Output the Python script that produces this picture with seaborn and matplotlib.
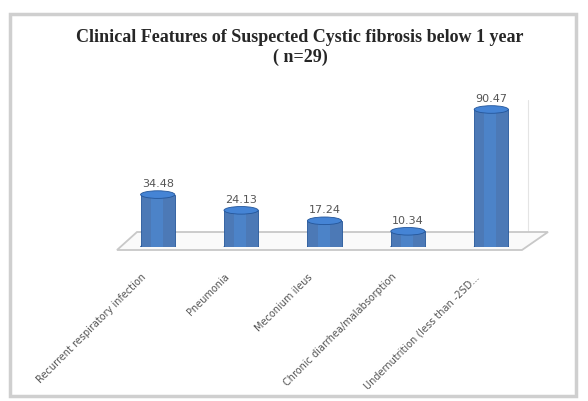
import matplotlib
matplotlib.use("Agg")
import matplotlib.pyplot as plt
import matplotlib.transforms as mtransforms
import seaborn as sns
from matplotlib.patches import Ellipse, Polygon, Rectangle

features = ["Recurrent respiratory infection", "Pneumonia", "Meconium ileus",
            "Chronic diarrhea/malabsorption", "Undernutrition (less than -2SD..."]
percent = [34.48, 24.13, 17.24, 10.34, 90.47]

sns.set_style("white")
plt.rcParams['font.family'] = ['DejaVu Sans']

fig = plt.figure(figsize=(5.88, 4.01), dpi=100)
W, H = 588, 401

# outer chart frame
fig.patches.append(Rectangle((10 / W, 1 - 396 / H), 566 / W, 382 / H, transform=fig.transFigure,
                             fill=False, edgecolor="#cfcfcf", linewidth=2.5, zorder=-2))

# 3d-ish floor and back-wall edge
floor = [(117, 250), (137, 232), (548, 232), (522, 250)]
fig.patches.append(Polygon([(x / W, 1 - y / H) for x, y in floor], closed=True,
                           transform=fig.transFigure, facecolor="#fafafa",
                           edgecolor="#c8c8c8", linewidth=1.3, zorder=-1))
fig.lines.append(plt.Line2D([528 / W, 528 / W], [1 - 232 / H, 1 - 100 / H],
                            transform=fig.transFigure, color="#e4e4e4", linewidth=0.8, zorder=-1))

ax = fig.add_axes([116 / W, 1 - 247 / H, 417 / W, 152 / H])
ax.patch.set_alpha(0)
sns.barplot(x=features, y=percent, color="#3a77c8", width=0.41, ax=ax, zorder=3,
            edgecolor="#24569a", linewidth=0.6)
ax.set_ylim(0, 100)
ax.set_xlim(-0.5, 4.5)

# cylinder caps and shading
for p in ax.patches[:len(percent)]:
    x0, w, h = p.get_x(), p.get_width(), p.get_height()
    cx = x0 + w / 2
    ax.add_patch(Ellipse((cx, 0), w, 5, facecolor="#2f66b0", edgecolor="#24569a",
                         linewidth=0.6, zorder=2))
    ax.add_patch(Rectangle((x0 + w * 0.3, 0), w * 0.35, h, facecolor="#4d8ddb",
                           edgecolor="none", alpha=0.5, zorder=4))
    ax.add_patch(Ellipse((cx, h), w, 5, facecolor="#4584d5", edgecolor="#24569a",
                         linewidth=0.6, zorder=5))
    ax.text(cx, h + 3.5, f"{h:.2f}", ha="center", va="bottom", fontsize=8, color="#555555")

for s in ax.spines.values():
    s.set_visible(False)
ax.set_yticks([])
ax.tick_params(axis="x", length=0, pad=18, labelsize=7, labelcolor="#555555")
shift = mtransforms.ScaledTranslation(-17 / 100, 0, fig.dpi_scale_trans)
for lab in ax.get_xticklabels():
    lab.set_rotation(45)
    lab.set_ha("right")
    lab.set_rotation_mode("anchor")
    lab.set_transform(lab.get_transform() + shift)

fig.text(300 / W, 1 - 38 / H, "Clinical Features of Suspected Cystic fibrosis below 1 year",
         ha="center", va="center", fontsize=13, fontweight="bold", family="Liberation Serif")
fig.text(300 / W, 1 - 57 / H, "( n=29)", ha="center", va="center", fontsize=13,
         fontweight="bold", family="Liberation Serif")

fig.savefig("out.png", dpi=100)
